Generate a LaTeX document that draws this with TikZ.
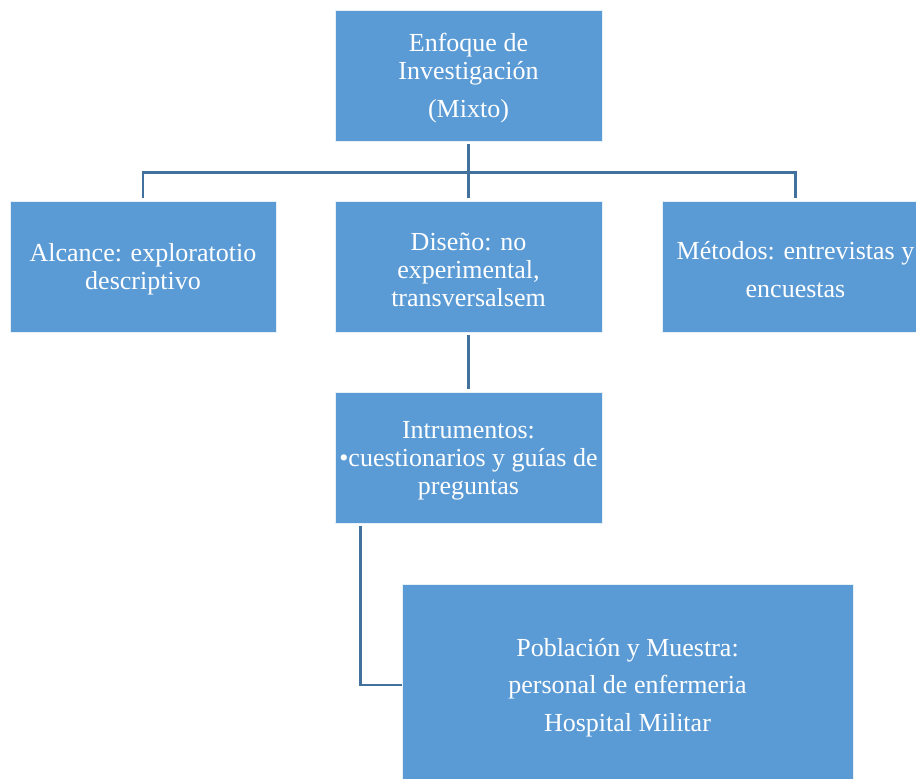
\documentclass[tikz,border=0pt]{standalone}
\usepackage{fontspec}
\setmainfont{Liberation Serif}
\definecolor{boxfill}{HTML}{5B9BD5}
\definecolor{linkcol}{HTML}{41719C}
\newcommand{\topstrut}{\rule{0pt}{24bp}}
\tikzset{
  box/.style={rectangle, fill=boxfill, draw=white!85!boxfill, line width=0.8bp,
    minimum width=267bp, minimum height=131bp, inner sep=0pt, align=center,
    text=white, font=\rmfamily\fontsize{26bp}{28bp}\selectfont},
  link/.style={draw=linkcol, line width=2.6bp, shorten <=3bp, shorten >=3bp}
}
\begin{document}
\begin{tikzpicture}[x=1bp,y=-1bp]
\useasboundingbox (0,0) rectangle (916,779);
\clip (0,0) rectangle (916,779);
\node[box] (top) at (468.5,75.5) {\topstrut Enfoque de\\Investigación\\[10bp](Mixto)};
\node[box, minimum width=266bp] (alc) at (143,266.5) {\topstrut Alcance: exploratotio\\descriptivo};
\node[box] (dis) at (468.5,266.5) {\topstrut Diseño: no\\experimental,\\transversalsem};
\node[box] (met) at (795.5,266.5) {\topstrut Métodos: entrevistas y\\[10bp]encuestas};
\node[box] (ins) at (468.5,457.5) {\topstrut Intrumentos:\\•cuestionarios y guías de\\preguntas};
\node[box, minimum width=451bp, minimum height=202bp] (pob) at (627.5,685)
  {\topstrut Población y Muestra:\\[9bp]personal de enfermeria\\[10bp]Hospital Militar};
\coordinate (hub) at ([yshift=-31bp]top.south);
\draw[link] (top.south) -- (dis.north);
\draw[link, shorten <=0pt] (hub) -| (alc.north);
\draw[link, shorten <=0pt] (hub) -| (met.north);
\draw[link] (dis.south) -- (ins.north);
\draw[link, shorten >=0pt] ([xshift=26bp]ins.south west) |- (pob.west);
\end{tikzpicture}
\end{document}
